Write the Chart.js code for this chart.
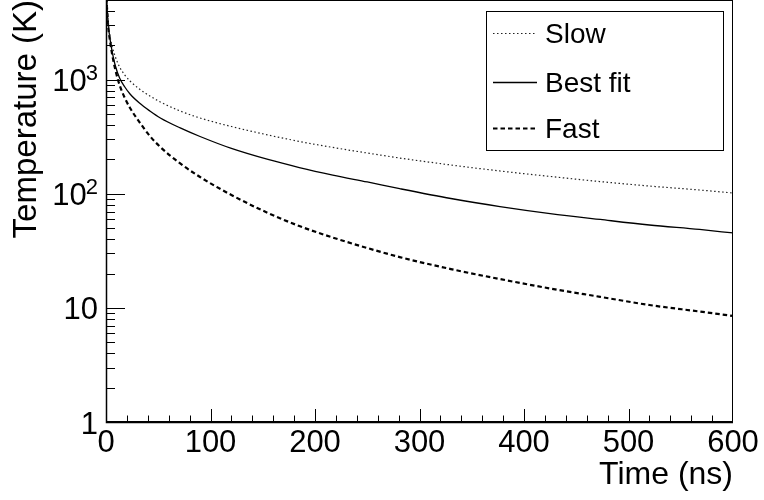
<!DOCTYPE html>
<html>
<head>
<meta charset="utf-8">
<script src="https://cdn.jsdelivr.net/npm/chart.js@4.4.0/dist/chart.umd.min.js"></script>
<style>
  html, body { margin: 0; padding: 0; background: #fff; }
  canvas { display: block; }
</style>
</head>
<body>
<canvas id="tempChart" width="764" height="500"></canvas>
<script>
// time axis (ns) and temperatures (K)
const times = [0, 2, 4, 6, 9, 13, 18, 23, 32, 42, 52, 71, 90, 120, 155, 185, 217, 250, 281, 330, 377, 425, 473, 520, 568, 600];
const slowT = [6100, 3340, 2368, 1936, 1582, 1294, 1100, 974, 829, 720, 638, 532, 462, 389, 328, 288, 255, 228, 206, 179, 158.6, 142, 128, 117, 108, 101.7];
const bestT = [6100, 3141, 2230, 1750, 1320, 1035, 864, 750, 625, 532, 462, 378, 318, 250, 200, 170, 146, 127, 111, 91, 77.4, 67.2, 59.6, 53.3, 48.7, 45.4];
const fastT = [6100, 3019, 2142, 1648, 1217, 899, 692, 565, 426, 321, 257, 184.5, 140.4, 97.7, 67.9, 52.2, 41.4, 33.5, 27.9, 21.9, 17.9, 14.8, 12.5, 10.6, 9.3, 8.5];
const seriesNames = ["Slow", "Best fit", "Fast"];

const xLabelValues = [0, 100, 200, 300, 400, 500, 600];
const yMajorTicks  = [1, 10, 100, 1000];
const yTickBase    = ["1", "10", "10", "10"];
const yTickExp     = ["", "", "2", "3"];
const yMinorSteps  = [2, 3, 4, 5, 6, 7, 8, 9];

const FONT = "'Liberation Sans', Arial, Helvetica, sans-serif";

let yTickValues = [];
yMajorTicks.forEach(m => {
    yTickValues.push(m);
    yMinorSteps.forEach(s => { if (m * s <= 5000) yTickValues.push(m * s); });
});

function toPoints(arr){
    return times.map((t, i) => ({x: t, y: arr[i]}));
}

// frame, inner ticks, y labels with exponents and boxed legend (ROOT look)
const rootStyle = {
    id: "rootStyle",
    afterDraw(chart){
        const ctx = chart.ctx;
        const a = chart.chartArea;
        const xs = chart.scales.x, ys = chart.scales.y;
        ctx.save();
        ctx.strokeStyle = "#000";
        ctx.lineWidth = 1;
        ctx.strokeRect(a.left + 0.5, a.top + 0.5, a.right - a.left - 1, a.bottom - a.top - 1);
        ctx.lineWidth = 1.5;
        ctx.beginPath();
        ctx.moveTo(a.left + 0.5, a.top); ctx.lineTo(a.left + 0.5, a.bottom + 0.5); ctx.lineTo(a.right, a.bottom + 0.5);
        ctx.stroke();

        ctx.lineWidth = 1;
        ctx.beginPath();
        xs.ticks.forEach(t => {
            if (t.value <= 0 || t.value >= 600) return;
            const px = Math.round(xs.getPixelForValue(t.value)) + 0.5;
            const len = xLabelValues.includes(t.value) ? 13 : 6.5;
            ctx.moveTo(px, a.bottom); ctx.lineTo(px, a.bottom - len);
        });
        ys.ticks.forEach(t => {
            if (t.value <= 1) return;
            const py = Math.round(ys.getPixelForValue(t.value)) + 0.5;
            const len = yMajorTicks.includes(t.value) ? 19 : 9;
            ctx.moveTo(a.left, py); ctx.lineTo(a.left + len, py);
        });
        ctx.stroke();

        // y tick labels, 10^n written with a raised exponent
        ctx.fillStyle = "#000";
        ctx.textAlign = "right";
        ctx.textBaseline = "middle";
        yMajorTicks.forEach((v, i) => {
            const py = ys.getPixelForValue(v);
            let right = a.left - 8;
            if (yTickExp[i]) {
                ctx.font = "22px " + FONT;
                ctx.fillText(yTickExp[i], right, py - 6);
                right -= ctx.measureText(yTickExp[i]).width - 1;
            }
            ctx.font = "31px " + FONT;
            ctx.fillText(yTickBase[i], right, py + 3);
        });

        // legend
        const box = {x: 486.5, y: 11.5, w: 237, h: 139};
        ctx.lineWidth = 1;
        ctx.fillStyle = "#fff";
        ctx.fillRect(box.x, box.y, box.w, box.h);
        ctx.strokeStyle = "#000";
        ctx.strokeRect(box.x, box.y, box.w, box.h);
        const rows = [33, 82, 128];
        ctx.font = "28px " + FONT;
        ctx.textBaseline = "middle";
        ctx.textAlign = "left";
        chart.data.datasets.forEach((ds, i) => {
            const y = rows[i] + 0.5;
            ctx.strokeStyle = ds.borderColor;
            ctx.lineWidth = ds.borderWidth;
            ctx.setLineDash(ds.borderDash || []);
            ctx.beginPath();
            ctx.moveTo(493, y); ctx.lineTo(537, y);
            ctx.stroke();
            ctx.setLineDash([]);
            ctx.fillStyle = "#000";
            ctx.fillText(ds.label, 545, rows[i] + 2);
        });
        ctx.restore();
    }
};

new Chart(document.getElementById("tempChart"), {
    type: "line",
    data: {
        datasets: [
            {label: seriesNames[0], data: toPoints(slowT), borderColor: "#222", borderWidth: 1.2, borderDash: [1.5, 2.5]},
            {label: seriesNames[1], data: toPoints(bestT), borderColor: "#000", borderWidth: 1.3, borderDash: []},
            {label: seriesNames[2], data: toPoints(fastT), borderColor: "#000", borderWidth: 2.2, borderDash: [4.5, 3]}
        ]
    },
    options: {
        responsive: false,
        animation: false,
        devicePixelRatio: 1,
        layout: {padding: {left: 0, right: 31, top: 0, bottom: 0}},
        elements: {
            point: {radius: 0},
            line: {cubicInterpolationMode: "monotone", fill: false}
        },
        plugins: {
            legend: {display: false},
            tooltip: {enabled: false}
        },
        scales: {
            x: {
                type: "linear",
                min: 0, max: 600,
                grid: {display: false, drawTicks: false},
                border: {display: false},
                ticks: {
                    stepSize: 20, autoSkip: false, maxRotation: 0, padding: 3,
                    color: "#000", font: {family: FONT, size: 31},
                    callback: v => xLabelValues.includes(v) ? String(v) : ""
                },
                title: {
                    display: true, text: "Time (ns)", align: "end", color: "#000",
                    font: {family: FONT, size: 32}, padding: {top: 0, bottom: 6}
                },
                afterFit: s => { s.height = 78; s.paddingLeft = 0; s.paddingRight = 0; }
            },
            y: {
                type: "logarithmic",
                min: 1, max: 5000,
                grid: {display: false, drawTicks: false},
                border: {display: false},
                afterBuildTicks: s => { s.ticks = yTickValues.map(v => ({value: v})); },
                ticks: {display: false, autoSkip: false},
                title: {
                    display: true, text: "Temperature (K)", align: "end", color: "#000",
                    font: {family: FONT, size: 33}, padding: {top: 7, bottom: 0}
                },
                afterFit: s => { s.width = 106; s.paddingTop = 0; s.paddingBottom = 0; }
            }
        }
    },
    plugins: [rootStyle]
});
</script>
</body>
</html>
